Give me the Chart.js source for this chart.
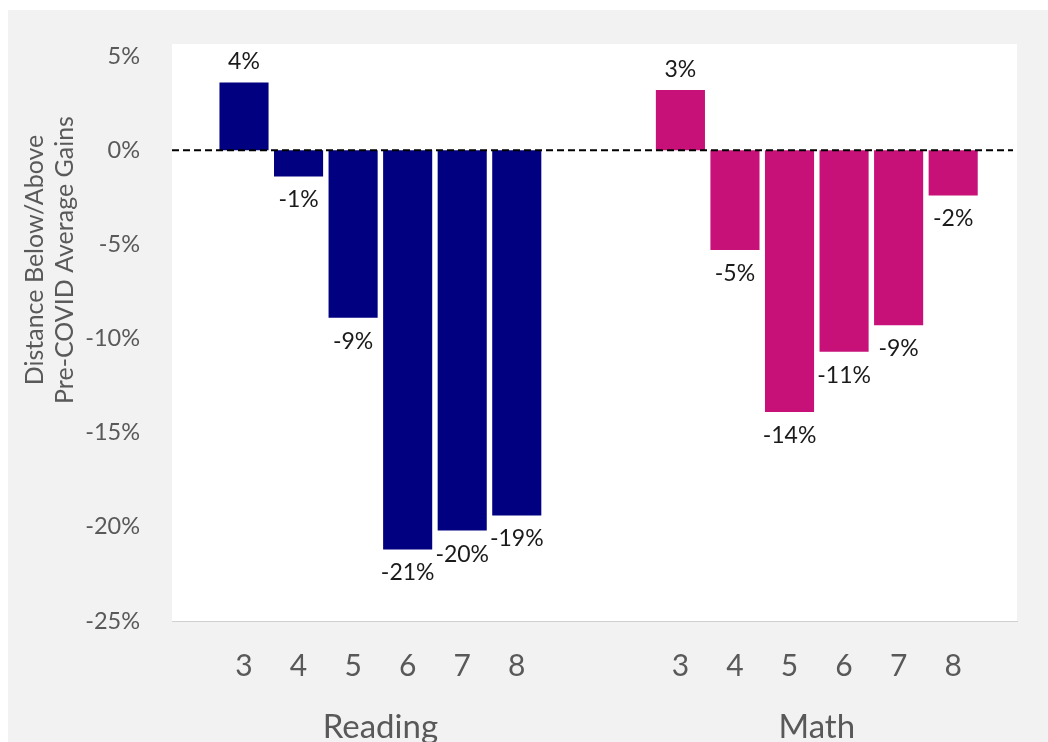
<!DOCTYPE html>
<html>
<head>
<meta charset="utf-8">
<script src="https://cdn.jsdelivr.net/npm/chart.js@4.4.1/dist/chart.umd.min.js"></script>
<style>
  html, body { margin: 0; padding: 0; background: #fff; }
  #wrap { position: absolute; left: 8px; top: 10px; width: 1040px; height: 732px; background: #f2f2f2; }
</style>
</head>
<body>
<div id="wrap"><canvas id="gainsChart"></canvas></div>
<script>
// grades shown under each subject
const grades = ['3', '4', '5', '6', '7', '8'];
const subjects = ['Reading', 'Math'];
// distance below/above pre-COVID average gains (%)
const readingValues = [3.6, -1.4, -8.9, -21.2, -20.2, -19.4];
const mathValues = [3.2, -5.3, -13.9, -10.7, -9.3, -2.4];
const yTicks = [5, 0, -5, -10, -15, -20, -25];

const gapSlots = 3; // Reading 8 -> Math 3 spacing in slots
const readingX = grades.map((g, i) => i + 1);
const mathX = grades.map((g, i) => i + 1 + grades.length + gapSlots - 1);
const allX = readingX.concat(mathX);

const font = 'Lato';
const grey = '#595959';

// white plot area behind bars
const plotBg = {
    id: 'plotBg',
    beforeDraw(chart) {
        const { ctx, chartArea: a } = chart;
        ctx.save();
        ctx.fillStyle = '#ffffff';
        ctx.fillRect(a.left, a.top, a.right - a.left, a.bottom - a.top);
        ctx.restore();
    }
};

// dashed zero line + value labels
const overlay = {
    id: 'overlay',
    afterDatasetsDraw(chart) {
        const { ctx, chartArea: a, scales } = chart;
        const y0 = scales.y.getPixelForValue(0);
        ctx.save();
        ctx.strokeStyle = '#000';
        ctx.lineWidth = 2;
        ctx.setLineDash([7, 4]);
        ctx.beginPath();
        ctx.moveTo(a.left, y0);
        ctx.lineTo(a.right - 4, y0);
        ctx.stroke();
        ctx.setLineDash([]);

        ctx.font = '23px ' + font;
        ctx.fillStyle = '#1a1a1a';
        ctx.textAlign = 'center';
        chart.data.datasets.forEach((ds, di) => {
            const meta = chart.getDatasetMeta(di);
            meta.data.forEach((bar, i) => {
                const v = ds.data[i].y;
                const txt = Math.round(v) + '%';
                if (v >= 0) {
                    ctx.textBaseline = 'bottom';
                    ctx.fillText(txt, bar.x, bar.y - 9);
                } else {
                    ctx.textBaseline = 'top';
                    ctx.fillText(txt, bar.x, bar.y + 12);
                }
            });
        });
        ctx.restore();
    },
    afterDraw(chart) {
        const { ctx, scales } = chart;
        ctx.save();
        // subject names under each group
        ctx.font = '33px ' + font;
        ctx.fillStyle = grey;
        ctx.textAlign = 'center';
        ctx.textBaseline = 'middle';
        const groups = [readingX, mathX];
        subjects.forEach((s, i) => {
            const xs = groups[i];
            const cx = (scales.x.getPixelForValue(xs[0]) + scales.x.getPixelForValue(xs[xs.length - 1])) / 2;
            ctx.fillText(s, cx, 717);
        });
        // y axis title (two lines)
        ctx.translate(0, 250);
        ctx.rotate(-Math.PI / 2);
        ctx.font = '25px ' + font;
        ctx.fillText('Distance Below/Above', 0, 27);
        ctx.fillText('Pre-COVID Average Gains', 0, 57);
        ctx.restore();
    }
};

const ctx = document.getElementById('gainsChart').getContext('2d');
const gainsChart = new Chart(ctx, {
    type: 'bar',
    data: {
        datasets: [{
            label: 'Reading',
            data: readingValues.map((v, i) => ({ x: readingX[i], y: v })),
            backgroundColor: '#000080',
            grouped: false,
            barPercentage: 0.9,
            categoryPercentage: 1.0
        }, {
            label: 'Math',
            data: mathValues.map((v, i) => ({ x: mathX[i], y: v })),
            backgroundColor: '#c71078',
            grouped: false,
            barPercentage: 0.9,
            categoryPercentage: 1.0
        }]
    },
    options: {
        responsive: true,
        maintainAspectRatio: false,
        animation: false,
        layout: { padding: { top: 34, right: 31, left: 0, bottom: 0 } },
        plugins: {
            legend: { display: false },
            tooltip: { enabled: false }
        },
        scales: {
            x: {
                type: 'linear',
                offset: false,
                min: -0.32,
                max: 15.17,
                grid: { display: false },
                border: { display: true, color: '#d0d0d0', width: 1 },
                afterBuildTicks: (scale) => { scale.ticks = allX.map(v => ({ value: v })); },
                afterFit: (scale) => { scale.height = 121; },
                ticks: {
                    padding: 19,
                    color: grey,
                    font: { family: font, size: 30 },
                    maxRotation: 0,
                    autoSkip: false,
                    callback: (v) => {
                        const i = allX.indexOf(v);
                        return i < 0 ? '' : grades[i % grades.length];
                    }
                }
            },
            y: {
                min: -25,
                max: 5.64,
                grid: { display: false, tickLength: 24 },
                border: { display: false },
                afterBuildTicks: (scale) => { scale.ticks = yTicks.map(v => ({ value: v })); },
                afterFit: (scale) => { scale.width = 164; },
                ticks: {
                    padding: 8,
                    color: grey,
                    font: { family: font, size: 23.5 },
                    callback: (v) => v + '%'
                }
            }
        }
    },
    plugins: [plotBg, overlay]
});
</script>
</body>
</html>
